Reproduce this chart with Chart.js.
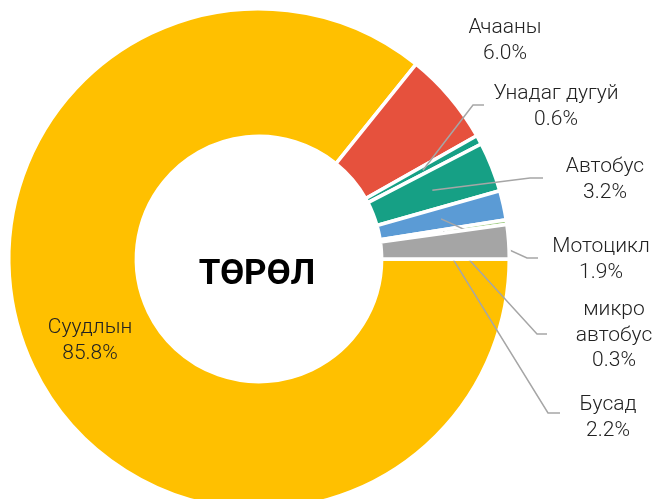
<!DOCTYPE html>
<html>
<head>
<meta charset="utf-8">
<script src="https://cdn.jsdelivr.net/npm/chart.js@4.4.0/dist/chart.umd.min.js"></script>
<style>
    html, body { margin: 0; padding: 0; background: #fff; overflow: hidden; }
    #wrap { width: 654px; height: 520px; }
</style>
</head>
<body>
<div id="wrap"><canvas id="typeChart" width="654" height="520"></canvas></div>
<script>
// ============================================
// DATA
// ============================================
const categories = ['Суудлын', 'Ачааны', 'Унадаг дугуй', 'Автобус', 'Мотоцикл', 'микро автобус', 'Бусад'];
const shares = [85.8, 6.0, 0.6, 3.2, 1.9, 0.3, 2.2];
const sliceColors = ['#FFC000', '#E6513D', '#16A085', '#16A085', '#5B9BD5', '#A9D18E', '#A5A5A5'];
const centerTitle = 'ТӨРӨЛ';

// label layout: text lines, centre x, first line y, leader elbow (null = no leader)
const labelLayout = [
    { lines: ['Суудлын'], x: 90, y: 328, elbow: null },
    { lines: ['Ачааны'], x: 505, y: 28, elbow: null },
    { lines: ['Унадаг дугуй'], x: 556, y: 94, elbow: [473, 105, 484] },
    { lines: ['Автобус'], x: 605, y: 167, elbow: [530, 178, 543] },
    { lines: ['Мотоцикл'], x: 601, y: 247, elbow: [527, 258, 538] },
    { lines: ['микро', 'автобус'], x: 614, y: 310, elbow: [537, 334, 547] },
    { lines: ['Бусад'], x: 608, y: 405, elbow: [548, 413, 560] }
];

// ============================================
// LABELS + LEADER LINES PLUGIN
// ============================================
const leaderLabels = {
    id: 'leaderLabels',
    afterDatasetsDraw(chart) {
        const ctx = chart.ctx;
        const arcs = chart.getDatasetMeta(0).data;

        // leader lines
        ctx.save();
        ctx.strokeStyle = '#A6A6A6';
        ctx.lineWidth = 1.5;
        labelLayout.forEach((lab, i) => {
            if (!lab.elbow) return;
            const a = arcs[i];
            const mid = (a.startAngle + a.endAngle) / 2;
            const r = (a.innerRadius + a.outerRadius) / 2;
            ctx.beginPath();
            ctx.moveTo(a.x + Math.cos(mid) * r, a.y + Math.sin(mid) * r);
            ctx.lineTo(lab.elbow[0], lab.elbow[1]);
            ctx.lineTo(lab.elbow[2], lab.elbow[1]);
            ctx.stroke();
        });
        ctx.restore();

        // grey slice sits on top of the lines in the original
        arcs[6].draw(ctx);

        // text
        ctx.save();
        ctx.fillStyle = '#222';
        ctx.font = '300 21px Roboto';
        ctx.textAlign = 'center';
        ctx.textBaseline = 'middle';
        labelLayout.forEach((lab, i) => {
            const lines = lab.lines.concat([shares[i].toFixed(1) + '%']);
            lines.forEach((t, k) => ctx.fillText(t, lab.x, lab.y + k * 25.5));
        });

        // centre title
        ctx.fillStyle = '#000';
        ctx.font = 'bold 35px Roboto';
        ctx.fillText(centerTitle, 257, 275);
        ctx.restore();
    }
};

// ============================================
// DOUGHNUT
// ============================================
new Chart(document.getElementById('typeChart'), {
    type: 'doughnut',
    data: {
        labels: categories,
        datasets: [{
            data: shares,
            backgroundColor: sliceColors,
            borderColor: '#fff',
            borderWidth: 3.5
        }]
    },
    options: {
        responsive: false,
        animation: false,
        rotation: 90,
        cutout: '49%',
        layout: {
            padding: { left: 7, top: 7, right: 143, bottom: 9 }
        },
        plugins: {
            legend: { display: false },
            tooltip: { enabled: false }
        },
        events: []
    },
    plugins: [leaderLabels]
});
</script>
</body>
</html>
